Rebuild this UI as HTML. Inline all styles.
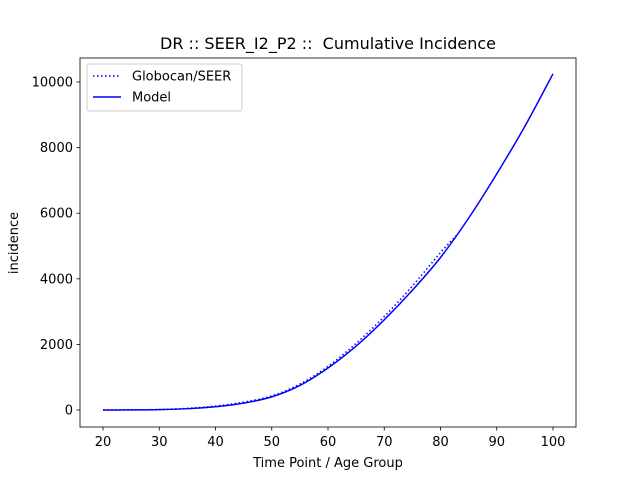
<!DOCTYPE html>
<html><head><meta charset="utf-8"><style>body{margin:0;background:#fff}svg{display:block;font-family:"DejaVu Sans","Liberation Sans",sans-serif}</style></head>
<body>
<svg id="chart" width="640" height="480">
<rect width="640" height="480" fill="#fff"/>
<text x="328" y="49" text-anchor="middle" font-size="16">DR :: SEER_I2_P2 ::&#160; Cumulative Incidence</text>
<g id="plot"></g>
<rect x="80" y="58" width="496" height="369" fill="none" stroke="#000" stroke-width="0.8"/>
<text x="328" y="467" text-anchor="middle" font-size="13">Time Point / Age Group</text>
<text transform="translate(18,243) rotate(-90)" text-anchor="middle" font-size="13">incidence</text>
<g>
<rect x="87" y="64" width="155" height="47" rx="2" fill="#fff" stroke="#ccc" stroke-width="1"/>
<line x1="93" y1="76" x2="121" y2="76" stroke="#00f" stroke-width="1.5" stroke-dasharray="1.5,2.5"/>
<text x="132" y="80.5" font-size="13">Globocan/SEER</text>
<line x1="93" y1="97" x2="121" y2="97" stroke="#00f" stroke-width="1.5"/>
<text x="132" y="101.5" font-size="13">Model</text>
</g>
</svg>
<script>
const ages=[20,25,30,35,40,45,50,55,60,65,70,75,80,85,90,95,100];
const modelVals=[0,3,12,40,100,210,400,750,1280,1950,2750,3650,4650,5850,7200,8650,10250];
const obsAges=[20,25,30,35,40,45,50,55,60,65,70,75,80,83];
const obsVals=[0,4,15,50,120,240,430,790,1330,2030,2850,3780,4800,5350];
const xTicks=[20,30,40,50,60,70,80,90,100];
const yTicks=[0,2000,4000,6000,8000,10000];
const sx=v=>103+(v-20)*(450/80);
const sy=v=>410-v*0.0328;
const NS="http://www.w3.org/2000/svg";
const g=document.getElementById('plot');
function mk(t,a){const e=document.createElementNS(NS,t);for(const k in a)e.setAttribute(k,a[k]);g.appendChild(e);return e;}
function smooth(xs,ys){const p=xs.map((x,i)=>[sx(x),sy(ys[i])]);let d='M'+p[0][0]+','+p[0][1];
 for(let i=0;i<p.length-1;i++){const p0=p[Math.max(0,i-1)],p1=p[i],p2=p[i+1],p3=p[Math.min(p.length-1,i+2)];
 const c1=[p1[0]+(p2[0]-p0[0])/6,p1[1]+(p2[1]-p0[1])/6],c2=[p2[0]-(p3[0]-p1[0])/6,p2[1]-(p3[1]-p1[1])/6];
 d+=' C'+c1+' '+c2+' '+p2;}return d;}
xTicks.forEach(v=>{
 const l=mk('line',{x1:sx(v),x2:sx(v),y1:427,y2:430.5,stroke:'#000','stroke-width':0.8});
 
 
 const t=mk('text',{x:sx(v),y:446,'text-anchor':'middle','font-size':13});t.textContent=v;
 
 
});
yTicks.forEach(v=>{
 const l=mk('line',{x1:76.5,x2:80,y1:sy(v),y2:sy(v),stroke:'#000','stroke-width':0.8});
 
 
 const t=mk('text',{x:73,y:sy(v)+4.5,'text-anchor':'end','font-size':13});t.textContent=v;
 
 
});
const p1=mk('path',{d:smooth(obsAges,obsVals),fill:'none',stroke:'#00f','stroke-width':1.5,'stroke-dasharray':'1.5,2.5'});


const p2=mk('path',{d:smooth(ages,modelVals),fill:'none',stroke:'#00f','stroke-width':1.5});


</script>
</body></html>
